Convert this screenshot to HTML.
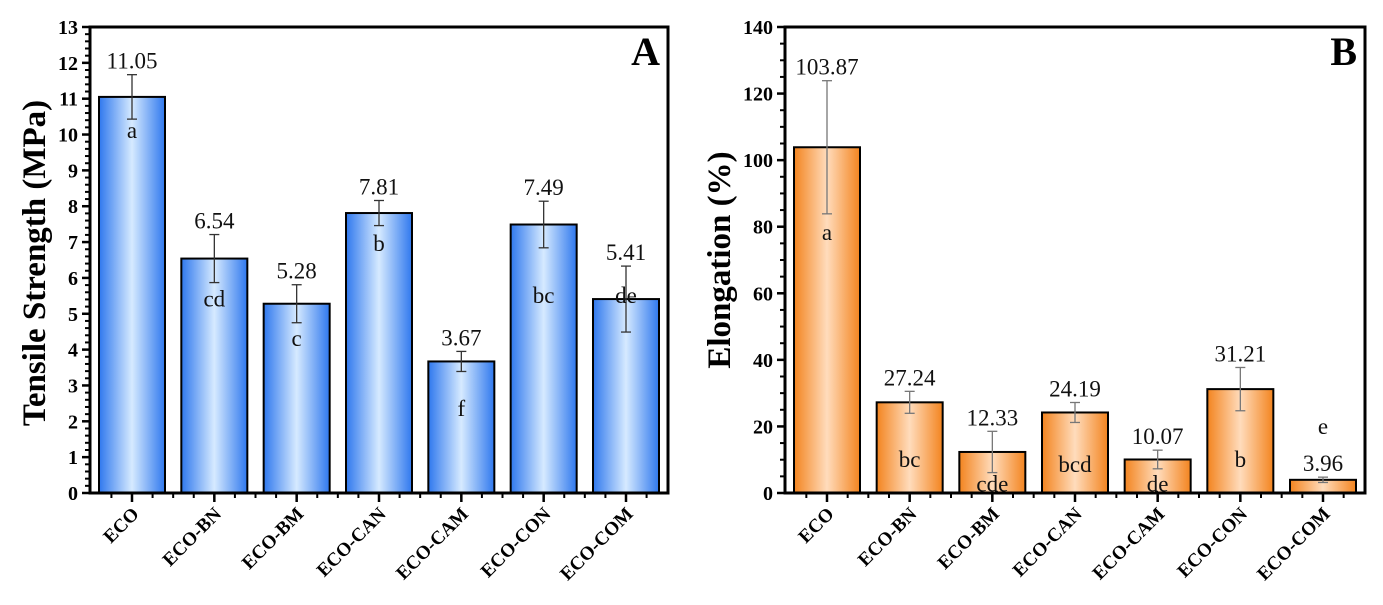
<!DOCTYPE html>
<html><head><meta charset="utf-8">
<style>
html,body{margin:0;padding:0;background:#fff;}
svg{display:block;font-family:"Liberation Serif",serif;}
</style></head>
<body>
<svg id="chart" width="1383" height="605" viewBox="0 0 1383 605" xmlns="http://www.w3.org/2000/svg">
<defs>
<linearGradient id="gBlue" x1="0" x2="1" y1="0" y2="0">
<stop offset="0" stop-color="#2f78ee"/><stop offset="0.5" stop-color="#d6eaff"/><stop offset="1" stop-color="#2f78ee"/>
</linearGradient>
<linearGradient id="gOrange" x1="0" x2="1" y1="0" y2="0">
<stop offset="0" stop-color="#f3841f"/><stop offset="0.5" stop-color="#ffdcbc"/><stop offset="1" stop-color="#f3841f"/>
</linearGradient>
</defs>
</svg>
<script>
const categories = ["ECO","ECO-BN","ECO-BM","ECO-CAN","ECO-CAM","ECO-CON","ECO-COM"];
const tensileValues = [11.05,6.54,5.28,7.81,3.67,7.49,5.41];
const tensileErrors = [0.62,0.67,0.53,0.35,0.28,0.65,0.92];
const tensileLetters = ["a","cd","c","b","f","bc","de"];
const tensileLetterPos = [9.9,5.2,4.1,6.75,2.15,5.3,5.3];
const tensileTicks = [0,1,2,3,4,5,6,7,8,9,10,11,12,13];
const elongValues = [103.87,27.24,12.33,24.19,10.07,31.21,3.96];
const elongErrors = [20,3.3,6.2,3.0,2.8,6.5,0.8];
const elongLetters = ["a","bc","cde","bcd","de","b","e"];
const elongLetterPos = [76,7.8,0.5,6.3,0.5,7.8,17.7];
const elongTicks = [0,20,40,60,80,100,120,140];

const svg = document.getElementById('chart');
const NS = "http://www.w3.org/2000/svg";
function mk(tag, attrs, parent){
  const e = document.createElementNS(NS, tag);
  for (const k in attrs) e.setAttribute(k, attrs[k]);
  (parent||svg).appendChild(e);
  return e;
}

function drawPanel(o){
  const g = mk('g', {});
  
  
  const L=o.left, R=o.right, T=27, B=493;
  const yS = v => B - v / o.max * (B - T);
  const n = categories.length;
  const xS = i => L + 42 + i * (R - L - 84) / (n - 1);
  const bw = 66;
  categories.forEach((c,i)=>{
    const v = o.values[i];
    const r = mk('rect', {x:xS(i)-bw/2, y:yS(v), width:bw, height:B-yS(v), fill:o.grad, stroke:'#000', 'stroke-width':2}, g);
    
    
    const e = o.errors[i];
    const eg = mk('g', {stroke: o.errColor, 'stroke-width':1.3}, g);
    
    
    mk('line', {x1:xS(i), x2:xS(i), y1:yS(v+e), y2:yS(Math.max(0,v-e))}, eg);
    mk('line', {x1:xS(i)-5, x2:xS(i)+5, y1:yS(v+e), y2:yS(v+e)}, eg);
    mk('line', {x1:xS(i)-5, x2:xS(i)+5, y1:yS(Math.max(0,v-e)), y2:yS(Math.max(0,v-e))}, eg);
    const vt = mk('text', {x:xS(i), y:yS(v+e)-6, 'text-anchor':'middle', 'font-size':23, fill:'#111'}, g);
    vt.textContent = v.toFixed(2);
    
    
    const lt = mk('text', {x:xS(i), y:yS(o.letterPos[i]), 'text-anchor':'middle', 'font-size':23, fill:'#111'}, g);
    lt.textContent = o.letters[i];
    
    
    const xt = mk('text', {x:0, y:0, 'text-anchor':'end', 'font-size':19, 'font-weight':'bold', transform:`translate(${xS(i)+8},${B+22}) rotate(-45)`}, g);
    xt.textContent = c;
    
    
    mk('line', {x1:xS(i), x2:xS(i), y1:B, y2:B+9, stroke:'#000', 'stroke-width':2.5}, g);
  });
  const sp = (R - L - 84) / (n - 1);
  for (let x = xS(0) - sp; x < R; x += sp/4) {
    if (x > L + 2 && x < R - 2) mk('line', {x1:x, x2:x, y1:B, y2:B+5, stroke:'#000', 'stroke-width':2}, g);
  }
  o.ticks.forEach((t,k)=>{
    mk('line', {x1:L-8, x2:L, y1:yS(t), y2:yS(t), stroke:'#000', 'stroke-width':2.5}, g);
    const tt = mk('text', {x:L-12, y:yS(t)+7, 'text-anchor':'end', 'font-size':20, 'font-weight':'bold'}, g);
    tt.textContent = t;
    
    
    if (k < o.ticks.length-1) {
      const step = (o.ticks[k+1]-t)/o.minor;
      for (let m=1;m<o.minor;m++) mk('line', {x1:L-5, x2:L, y1:yS(t+m*step), y2:yS(t+m*step), stroke:'#000', 'stroke-width':2}, g);
    }
  });
  const fr = mk('rect', {x:L, y:T, width:R-L, height:B-T, fill:'none', stroke:'#000', 'stroke-width':3}, g);
  
  
  const yt = mk('text', {x:0, y:0, 'text-anchor':'middle', 'font-size':33, 'font-weight':'bold', transform:`translate(${o.titleX},${o.titleY}) rotate(-90)`}, g);
  yt.textContent = o.title;
  
  
  const pl = mk('text', {x:R-8, y:T+38, 'text-anchor':'end', 'font-size':40, 'font-weight':'bold'}, g);
  pl.textContent = o.panel;
  
  
}

drawPanel({name:'tensile-strength-panel', left:90, right:668, max:13, values:tensileValues, errors:tensileErrors,
  letters:tensileLetters, letterPos:tensileLetterPos, ticks:tensileTicks, minor:5, grad:'url(#gBlue)', errColor:'#333',
  title:'Tensile Strength (MPa)', titleX:45, titleY:263, panel:'A'});
drawPanel({name:'elongation-panel', left:785, right:1365, max:140, values:elongValues, errors:elongErrors,
  letters:elongLetters, letterPos:elongLetterPos, ticks:elongTicks, minor:4, grad:'url(#gOrange)', errColor:'#777',
  title:'Elongation (%)', titleX:730, titleY:260, panel:'B'});
</script>
</body></html>
